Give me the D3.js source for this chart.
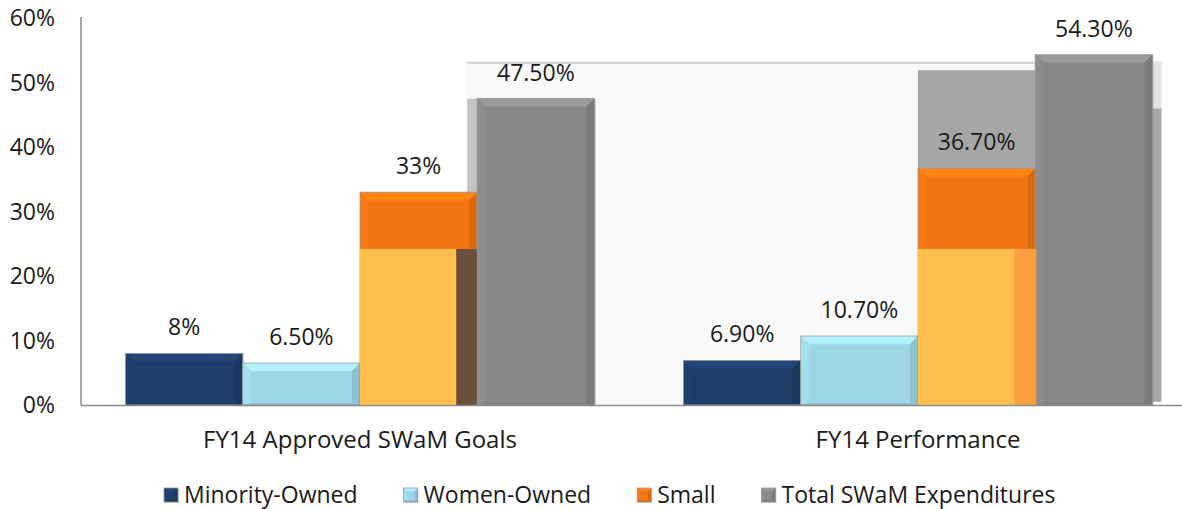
<!DOCTYPE html>
<html>
<head>
<meta charset="utf-8">
<script src="https://cdn.jsdelivr.net/npm/d3@7"></script>
<style>
  html, body { margin: 0; padding: 0; background: #fff; }
  svg { display: block; font-family: "Open Sans", "Noto Sans", sans-serif; }
</style>
</head>
<body>
<svg id="chart" width="1182" height="509"></svg>
<script>
// Chart data
const groups = ['FY14 Approved SWaM Goals', 'FY14 Performance'];
const series = ['Minority-Owned', 'Women-Owned', 'Small', 'Total SWaM Expenditures'];
const goalValues = [8, 6.5, 33, 47.5];
const performanceValues = [6.9, 10.7, 36.7, 54.3];
const valueLabels = [['8%', '6.50%', '33%', '47.50%'], ['6.90%', '10.70%', '36.70%', '54.30%']];
const yTicks = [0, 10, 20, 30, 40, 50, 60];

// pasted-over patches visible in the source picture (in % units)
const smallPatchTop = 24.2;
const panelTop = 53.2;
const grayBlockTop = 51.9;

const COLORS = {
  'Minority-Owned': '#1f3d69',
  'Women-Owned': '#9fd6e6',
  'Small': '#f17512',
  'Total SWaM Expenditures': '#888888'
};

const svg = d3.select('#chart');
const W = 1182, H = 509;
const plotLeft = 81, plotBottom = 405, plotTop = 18;

const x0 = d3.scaleBand().domain(groups).range([plotLeft, plotLeft + 1116]);
const x1 = d3.scaleBand().domain(series).range([0, x0.bandwidth()]).paddingOuter(0.38);
const y = d3.scaleLinear().domain([0, 60]).range([plotBottom, plotTop]);

const rows = groups.map((g, gi) => ({
  group: g,
  values: series.map((s, si) => ({
    group: g, series: s,
    value: (gi === 0 ? goalValues : performanceValues)[si],
    label: valueLabels[gi][si]
  }))
}));

const bx = d => x0(d.group) + x1(d.series);

/////////////////////////
// Background patches  //
/////////////////////////

const bg = svg.append('g');
const g1Total = rows[0].values[3];
const g2Small = rows[1].values[2];
const g2Total = rows[1].values[3];

bg.append('rect')
  .attr('x', bx(g1Total) - 10)
  .attr('y', y(panelTop))
  .attr('width', bx(g2Total) + x1.bandwidth() + 9 - (bx(g1Total) - 10))
  .attr('height', y(0) - y(panelTop))
  .attr('fill', '#f9f9f9');
bg.append('line')
  .attr('x1', bx(g1Total) - 10).attr('x2', bx(g2Total) + x1.bandwidth() + 9)
  .attr('y1', y(panelTop) + 1).attr('y2', y(panelTop) + 1)
  .attr('stroke', '#cfcfcf').attr('stroke-width', 2);
bg.append('rect')
  .attr('x', bx(g2Small))
  .attr('y', y(grayBlockTop))
  .attr('width', x1.bandwidth() + 2)
  .attr('height', y(g2Small.value) - y(grayBlockTop))
  .attr('fill', '#a6a6a6');
// shadows next to the total bars
bg.append('rect')
  .attr('x', bx(g2Total) + x1.bandwidth())
  .attr('y', y(46))
  .attr('width', 9)
  .attr('height', y(0.5) - y(46))
  .attr('fill', '#a8a8a8');
bg.append('rect')
  .attr('x', bx(g2Total) + x1.bandwidth())
  .attr('y', y(panelTop))
  .attr('width', 9)
  .attr('height', y(46) - y(panelTop))
  .attr('fill', '#e4e4e4');
bg.append('rect')
  .attr('x', bx(g1Total) - 10)
  .attr('y', y(g1Total.value))
  .attr('width', 12)
  .attr('height', y(0) - y(g1Total.value))
  .attr('fill', '#c4c4c4');

////////////
// Axes   //
////////////

svg.append('g')
  .selectAll('text')
  .data(yTicks)
  .enter()
  .append('text')
    .attr('x', plotLeft - 26)
    .attr('y', d => y(d))
    .attr('dy', '0.36em')
    .attr('text-anchor', 'end')
    .attr('font-size', 23)
    .attr('fill', '#1a1a1a')
    .text(d => d + '%');

//////////////////////
// Beveled bars     //
//////////////////////

function bevelBar(sel, x, yTop, w, h, color, b) {
  const c = d3.color(color);
  const g = sel.append('g');
  g.append('rect').attr('x', x + 1).attr('y', yTop + 1).attr('width', w).attr('height', h)
    .attr('fill', '#000').attr('opacity', 0.18);
  g.append('rect').attr('x', x).attr('y', yTop).attr('width', w).attr('height', h).attr('fill', c);
  const pts = {
    topp: [[x, yTop], [x + w, yTop], [x + w - b, yTop + b], [x + b, yTop + b]],
    lft: [[x, yTop], [x + b, yTop + b], [x + b, yTop + h - 2], [x, yTop + h]],
    rgt: [[x + w, yTop], [x + w - b, yTop + b], [x + w - b, yTop + h - 2], [x + w, yTop + h]],
    bot: [[x, yTop + h], [x + b, yTop + h - 2], [x + w - b, yTop + h - 2], [x + w, yTop + h]]
  };
  g.append('polygon').attr('points', pts.topp.join(' ')).attr('fill', c.brighter(0.35));
  g.append('polygon').attr('points', pts.lft.join(' ')).attr('fill', c.brighter(0.1));
  g.append('polygon').attr('points', pts.rgt.join(' ')).attr('fill', c.darker(0.3));
  g.append('polygon').attr('points', pts.bot.join(' ')).attr('fill', c.darker(0.25));
  g.append('line').attr('x1', x + b).attr('x2', x + w - b).attr('y1', yTop + b).attr('y2', yTop + b)
    .attr('stroke', c.brighter(0.2)).attr('stroke-width', 1);
  g.append('rect').attr('x', x).attr('y', yTop).attr('width', w).attr('height', h)
    .attr('fill', 'none').attr('stroke', '#9a9a9a').attr('stroke-width', 0.8);
  return g;
}

const barsG = svg.append('g');
rows.forEach(r => {
  r.values.forEach(d => {
    bevelBar(barsG, bx(d), y(d.value), x1.bandwidth(), y(0) - y(d.value), COLORS[d.series], 8);
  });
});

// yellow overlay patches on the Small bars
rows.forEach((r, gi) => {
  const d = r.values[2];
  barsG.append('rect')
    .attr('x', bx(d)).attr('y', y(smallPatchTop))
    .attr('width', x1.bandwidth()).attr('height', y(0) - y(smallPatchTop))
    .attr('fill', '#ffbf4c');
  barsG.append('rect')
    .attr('x', bx(d) + x1.bandwidth() - 21).attr('y', y(smallPatchTop))
    .attr('width', gi === 0 ? 24 : 22).attr('height', y(0) - y(smallPatchTop))
    .attr('fill', gi === 0 ? '#6b4e3b' : '#fd9e41');
});
// redraw the first total bar on top of the brown strip
bevelBar(barsG, bx(g1Total), y(g1Total.value), x1.bandwidth(), y(0) - y(g1Total.value), COLORS[g1Total.series], 8);

// axis lines
svg.append('line')
  .attr('x1', plotLeft).attr('x2', plotLeft).attr('y1', plotTop - 1).attr('y2', plotBottom)
  .attr('stroke', '#8a8a8a').attr('stroke-width', 1.5);
svg.append('line')
  .attr('x1', plotLeft).attr('x2', W).attr('y1', plotBottom + 0.5).attr('y2', plotBottom + 0.5)
  .attr('stroke', '#8a8a8a').attr('stroke-width', 1.5);

// value labels
rows.forEach(r => {
  svg.append('g')
    .selectAll('text')
    .data(r.values)
    .enter()
    .append('text')
      .attr('x', d => bx(d) + x1.bandwidth() / 2)
      .attr('y', d => y(d.value) - 18)
      .attr('text-anchor', 'middle')
      .attr('font-size', 23)
      .attr('fill', '#1a1a1a')
      .text(d => d.label);
});

// category labels
svg.append('g')
  .selectAll('text')
  .data(groups)
  .enter()
  .append('text')
    .attr('x', d => x0(d) + x0.bandwidth() / 2)
    .attr('y', 448)
    .attr('text-anchor', 'middle')
    .attr('font-size', 24)
    .attr('fill', '#1a1a1a')
    .text(d => d);

////////////
// Legend //
////////////

const legend = svg.append('g');
let lx = 164;
series.forEach(s => {
  bevelBar(legend, lx, 488, 14, 14, COLORS[s], 3);
  const t = legend.append('text')
    .attr('x', lx + 20)
    .attr('y', 503)
    .attr('font-size', 23)
    .attr('fill', '#1a1a1a')
    .text(s);
  lx += 20 + t.node().getComputedTextLength() + 46;
});
</script>
</body>
</html>
